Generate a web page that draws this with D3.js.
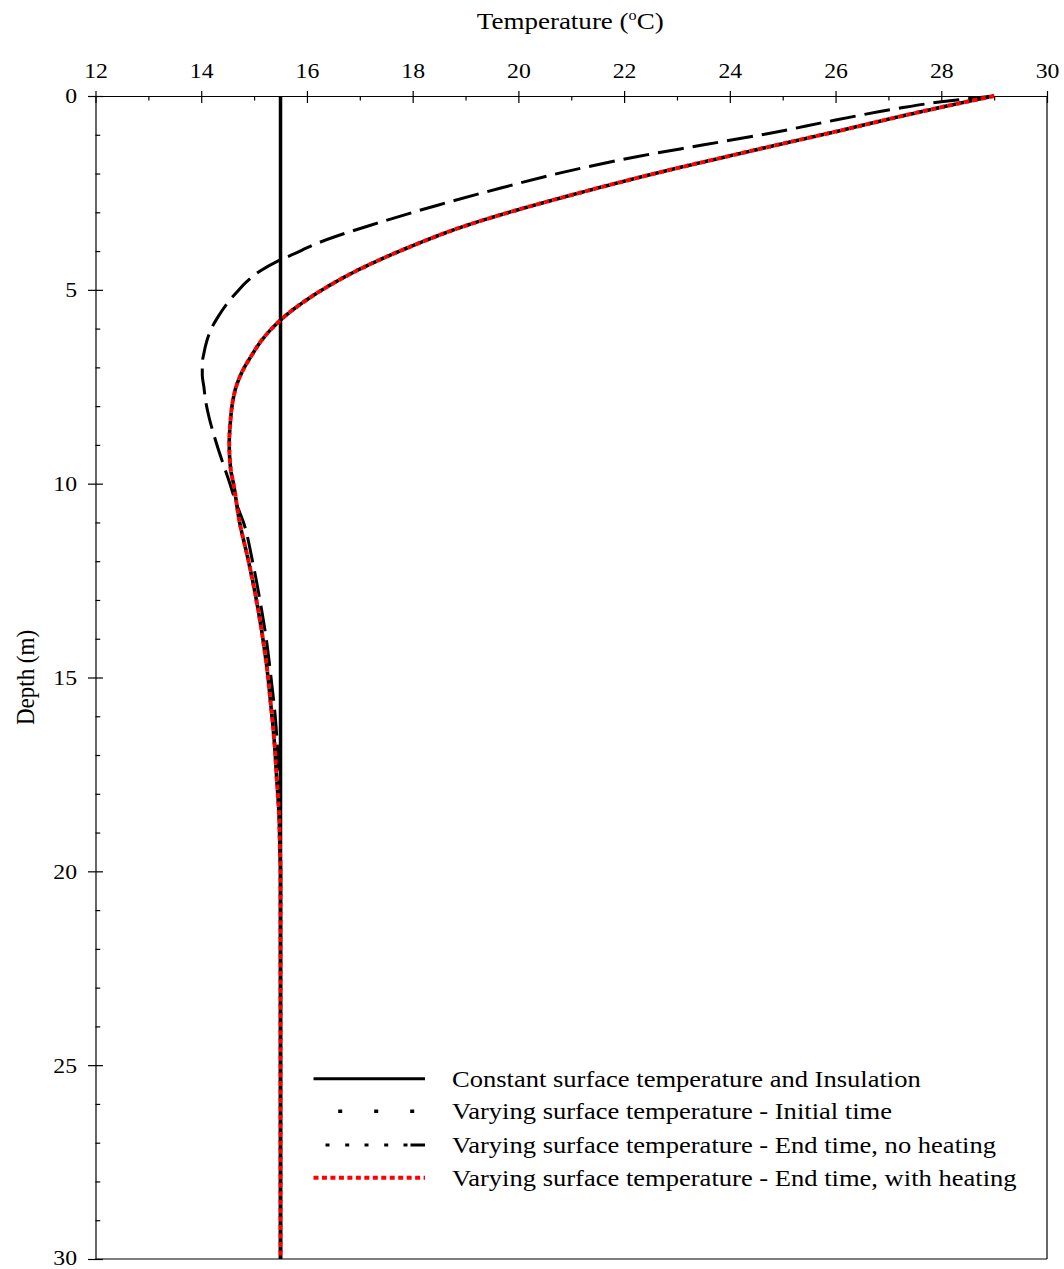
<!DOCTYPE html>
<html>
<head>
<meta charset="utf-8">
<script src="https://cdn.jsdelivr.net/npm/d3@7"></script>
<style>
  html, body { margin: 0; padding: 0; background: #fff; }
  svg text { font-family: "Liberation Serif", "Times New Roman", serif; fill: #000; }
</style>
</head>
<body>
<svg id="chart" width="1064" height="1269"></svg>
<script>
// Depth profiles (m) and soil temperatures (°C)
const constDepth = [0, 30];
const constTemp = [15.5, 15.5];

const initDepth = [0, 0.23, 0.55, 0.92, 1.22, 1.56, 1.91, 2.25, 2.60, 2.90, 3.37, 3.89, 4.40, 5.18, 5.78, 6.29, 6.72, 7.07, 7.50, 7.93, 8.44, 8.96, 9.65, 10.0, 11.02, 11.97, 12.83, 13.77, 14.72, 15.75, 16.61, 17.64, 18.5, 19.5, 20, 25, 30];
const initTemp  = [29.0, 28.2, 27.15, 26.0, 25.03, 23.95, 22.85, 21.85, 20.88, 20.08, 18.95, 17.95, 17.1, 16.08, 15.50, 15.15, 14.94, 14.79, 14.66, 14.59, 14.55, 14.53, 14.56, 14.61, 14.73, 14.89, 15.02, 15.14, 15.24, 15.32, 15.38, 15.43, 15.47, 15.49, 15.5, 15.5, 15.5];

const noHeatDepth = [0, 0.15, 0.32, 0.62, 0.96, 1.26, 1.56, 1.95, 2.38, 2.81, 3.28, 3.76, 4.10, 4.27, 4.5, 4.8, 5.05, 5.3, 5.69, 5.95, 6.3, 6.64, 6.9, 7.2, 7.5, 7.84, 8.3, 8.79, 9.1, 9.43, 9.99, 10.5, 11, 12, 13, 14, 15, 16, 17, 18, 20, 25, 30];
const noHeatTemp  = [29.0, 28.0, 27.18, 26.0, 24.76, 23.51, 22.26, 20.90, 19.65, 18.49, 17.33, 16.27, 15.71, 15.43, 15.13, 14.85, 14.68, 14.52, 14.32, 14.21, 14.11, 14.05, 14.02, 14.02, 14.05, 14.08, 14.15, 14.25, 14.32, 14.40, 14.54, 14.66, 14.80, 14.97, 15.11, 15.23, 15.32, 15.40, 15.45, 15.48, 15.5, 15.5, 15.5];

const heatDepth = [0, 0.23, 0.55, 0.92, 1.22, 1.56, 1.91, 2.25, 2.60, 2.90, 3.37, 3.89, 4.40, 5.18, 5.78, 6.29, 6.72, 7.07, 7.50, 7.93, 8.44, 8.96, 9.65, 10.0, 11.02, 11.97, 12.83, 13.77, 14.72, 15.75, 16.61, 17.64, 18.5, 19.5, 20, 25, 30];
const heatTemp  = [29.0, 28.2, 27.15, 26.0, 25.03, 23.95, 22.85, 21.85, 20.88, 20.08, 18.95, 17.95, 17.1, 16.08, 15.50, 15.15, 14.94, 14.79, 14.66, 14.59, 14.55, 14.53, 14.56, 14.61, 14.73, 14.89, 15.02, 15.14, 15.24, 15.32, 15.38, 15.43, 15.47, 15.49, 15.5, 15.5, 15.5];

const xMajorTicks = [12, 14, 16, 18, 20, 22, 24, 26, 28, 30];
const xMinorTicks = [13, 15, 17, 19, 21, 23, 25, 27, 29];
const yMajorTicks = [0, 5, 10, 15, 20, 25, 30];
const yMinorTicks = [1,2,3,4,6,7,8,9,11,12,13,14,16,17,18,19,21,22,23,24,26,27,28,29];

const legendLabels = [
  "Constant surface temperature and Insulation",
  "Varying surface temperature - Initial time",
  "Varying surface temperature - End time, no heating",
  "Varying surface temperature - End time, with heating"
];

const svg = d3.select("#chart");
const x = d3.scaleLinear().domain([12, 30]).range([95.5, 1047]);
const y = d3.scaleLinear().domain([0, 30]).range([96, 1259]);
const TICK_FS = 21;
const TITLE_FS = 23;
const LEGEND_FS = 23.5;
const SX = 1.13; // horizontal widening of the serif glyphs

// Top axis (temperature)
const topMajor = svg.append("g").attr("transform", `translate(0,${y(0)})`)
  .call(d3.axisTop(x).tickValues(xMajorTicks).tickFormat(d3.format("d")).tickSizeOuter(0));
topMajor.select(".domain").attr("stroke", "#000").attr("stroke-width", 1.2);
topMajor.selectAll(".tick line").attr("y1", -5).attr("y2", 7).attr("stroke", "#000").attr("stroke-width", 1.2);
topMajor.selectAll(".tick text").attr("y", -18).attr("dy", 0)
  .attr("font-size", TICK_FS).attr("font-family", "Liberation Serif")
  .attr("transform", `scale(${SX},1)`);

const topMinor = svg.append("g").attr("transform", `translate(0,${y(0)})`)
  .call(d3.axisTop(x).tickValues(xMinorTicks).tickFormat("").tickSizeOuter(0));
topMinor.select(".domain").remove();
topMinor.selectAll(".tick line").attr("y1", 0).attr("y2", 4.5).attr("stroke", "#000").attr("stroke-width", 1.2);

// Left axis (depth)
const leftMajor = svg.append("g").attr("transform", `translate(${x(12)},0)`)
  .call(d3.axisLeft(y).tickValues(yMajorTicks).tickFormat(d3.format("d")).tickSizeOuter(0));
leftMajor.select(".domain").attr("stroke", "#000").attr("stroke-width", 1.2);
leftMajor.selectAll(".tick line").attr("x1", -7.5).attr("x2", 7.5).attr("stroke", "#000").attr("stroke-width", 1.2);
leftMajor.selectAll(".tick text").attr("x", -18.5 / SX).attr("dy", d => d === 30 ? "0.28em" : "0.33em")
  .attr("font-size", TICK_FS).attr("font-family", "Liberation Serif")
  .attr("transform", `scale(${SX},1)`);

const leftMinor = svg.append("g").attr("transform", `translate(${x(12)},0)`)
  .call(d3.axisLeft(y).tickValues(yMinorTicks).tickFormat("").tickSizeOuter(0));
leftMinor.select(".domain").remove();
leftMinor.selectAll(".tick line").attr("x1", 0).attr("x2", 4.7).attr("stroke", "#000").attr("stroke-width", 1.2);

// Frame: right and bottom edges
svg.append("line").attr("x1", x(30)).attr("x2", x(30)).attr("y1", y(0)).attr("y2", y(30))
  .attr("stroke", "#000").attr("stroke-width", 1.2);
svg.append("line").attr("x1", x(12)).attr("x2", x(30)).attr("y1", y(30)).attr("y2", y(30))
  .attr("stroke", "#000").attr("stroke-width", 1.2);

// Axis titles
const title = svg.append("g").attr("transform", `translate(${(x(12) + x(30)) / 2 - 1},29) scale(${SX * 1.04},1)`)
  .append("text").attr("text-anchor", "middle").attr("font-size", TITLE_FS);
title.append("tspan").text("Temperature (");
title.append("tspan").text("o").attr("font-size", TITLE_FS * 0.6).attr("dy", -9);
title.append("tspan").text("C)").attr("dy", 9);

svg.append("text").attr("transform", `translate(34,${(y(0) + y(30)) / 2}) rotate(-90) scale(1,${SX})`)
  .attr("text-anchor", "middle").attr("font-size", TITLE_FS).text("Depth (m)");

// Profiles
const line = (depths, temps) => d3.line()
  .x(i => x(temps[i])).y(i => y(depths[i]))
  .curve(d3.curveMonotoneY)(d3.range(depths.length));

const series = [
  { d: constDepth, t: constTemp, stroke: "#000", width: 3.5, dash: null, offset: 0 },
  { d: initDepth, t: initTemp, stroke: "#000", width: 3.6, dash: "5,3.47", offset: 3.47 },
  { d: noHeatDepth, t: noHeatTemp, stroke: "#000", width: 3, dash: "26,9", offset: 0 },
  { d: heatDepth, t: heatTemp, stroke: "#ff0000", width: 4, dash: "5,3.47", offset: 0 }
];
svg.append("g").selectAll("path").data(series).join("path")
  .attr("d", s => line(s.d, s.t))
  .attr("fill", "none")
  .attr("stroke", s => s.stroke)
  .attr("stroke-width", s => s.width)
  .attr("stroke-dasharray", s => s.dash)
  .attr("stroke-dashoffset", s => s.offset);

// Legend
const legendRowY = [1078.7, 1111.3, 1145, 1177.7];
const legendStyles = [
  { stroke: "#000", width: 3, dash: null },
  { stroke: "#000", width: 3.5, dash: "0,24.7,4,32,4,32,4,20" },
  { stroke: "#000", width: 3, dash: "0,12,4,15.7,4,15.3,4,15.7,4,15.3,4,3,14" },
  { stroke: "#ff0000", width: 4, dash: "5,3.47" }
];
const legend = svg.append("g");
legendLabels.forEach((lab, i) => {
  legend.append("line").attr("x1", 313.5).attr("x2", 425).attr("y1", legendRowY[i]).attr("y2", legendRowY[i])
    .attr("stroke", legendStyles[i].stroke).attr("stroke-width", legendStyles[i].width)
    .attr("stroke-dasharray", legendStyles[i].dash);
  legend.append("g").attr("transform", `translate(452,${legendRowY[i] + 8}) scale(${SX},1)`)
    .append("text").attr("x", 0).attr("y", 0).attr("font-size", LEGEND_FS).text(lab);
});
</script>
</body>
</html>
